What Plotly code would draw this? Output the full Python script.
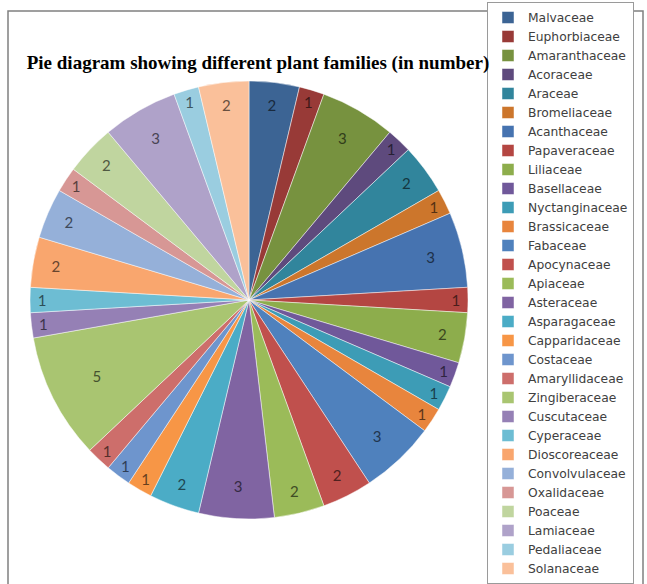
import plotly.graph_objects as go

families = ["Malvaceae", "Euphorbiaceae", "Amaranthaceae", "Acoraceae", "Araceae",
            "Bromeliaceae", "Acanthaceae", "Papaveraceae", "Liliaceae", "Basellaceae",
            "Nyctanginaceae", "Brassicaceae", "Fabaceae", "Apocynaceae", "Apiaceae",
            "Asteraceae", "Asparagaceae", "Capparidaceae", "Costaceae", "Amaryllidaceae",
            "Zingiberaceae", "Cuscutaceae", "Cyperaceae", "Dioscoreaceae", "Convolvulaceae",
            "Oxalidaceae", "Poaceae", "Lamiaceae", "Pedaliaceae", "Solanaceae"]
counts = [2, 1, 3, 1, 2,
          1, 3, 1, 2, 1,
          1, 1, 3, 2, 2,
          3, 2, 1, 1, 1,
          5, 1, 1, 2, 2,
          1, 2, 3, 1, 2]

slice_colors = ["#3C6494", "#983A37", "#77923F", "#5E4A7D", "#31859C", "#CC762C",
                "#4673B0", "#B44642", "#8DAD4C", "#70589A", "#3D9CB6", "#E8853D",
                "#4F81BD", "#C0504D", "#9BBB59", "#8064A2", "#4BACC6", "#F79646",
                "#6E95CD", "#CD6E6B", "#A9C571", "#9580B5", "#6DBDD3", "#F9A66E",
                "#95B0D9", "#D79795", "#C0D59F", "#AFA2C9", "#9ACDE0", "#FAC09A"]


def darken(hexcol, f=0.42):
    h = hexcol.lstrip("#")
    r, g, b = (int(h[i:i + 2], 16) for i in (0, 2, 4))
    return "#%02x%02x%02x" % (int(r * f), int(g * f), int(b * f))


label_colors = [darken(c) for c in slice_colors]

W, H = 647, 584
cx, cy, R = 249, 300, 219

fig = go.Figure()
fig.add_trace(go.Pie(
    labels=families,
    values=counts,
    sort=False,
    direction="clockwise",
    rotation=0,
    textinfo="value",
    textposition="inside",
    insidetextorientation="horizontal",
    textfont=dict(family="Lato", size=15, color=label_colors),
    marker=dict(colors=slice_colors, line=dict(color="rgba(255,255,255,0.6)", width=0.8)),
    domain=dict(x=[(cx - R) / W, (cx + R) / W], y=[(H - cy - R) / H, (H - cy + R) / H]),
    hoverinfo="label+value",
))

fig.update_layout(
    width=W, height=H,
    margin=dict(l=0, r=0, t=0, b=0),
    paper_bgcolor="white",
    plot_bgcolor="white",
    uniformtext=dict(minsize=14, mode="show"),
    title=dict(
        text="<b>Pie diagram showing different plant families (in number)</b>",
        font=dict(family="Liberation Serif", size=19, color="#000000"),
        x=258 / W, xanchor="center", xref="paper",
        y=1 - 62 / H, yanchor="middle", yref="paper",
    ),
    legend=dict(
        x=487 / W, xanchor="left",
        y=1 - 17 / H, yanchor="top",
        font=dict(family="DejaVu Sans", size=12.3, color="#404040"),
        bgcolor="white",
        bordercolor="#9a9a9a",
        borderwidth=1,
        traceorder="normal",
        itemwidth=30,
        entrywidth=150,
        entrywidthmode="pixels",
    ),
    shapes=[dict(type="rect", xref="paper", yref="paper",
                 x0=8 / W, x1=643 / W, y0=-0.05, y1=1 - 11 / H,
                 line=dict(color="#808080", width=1.5), layer="below")],
)

fig.write_html("out.html")
